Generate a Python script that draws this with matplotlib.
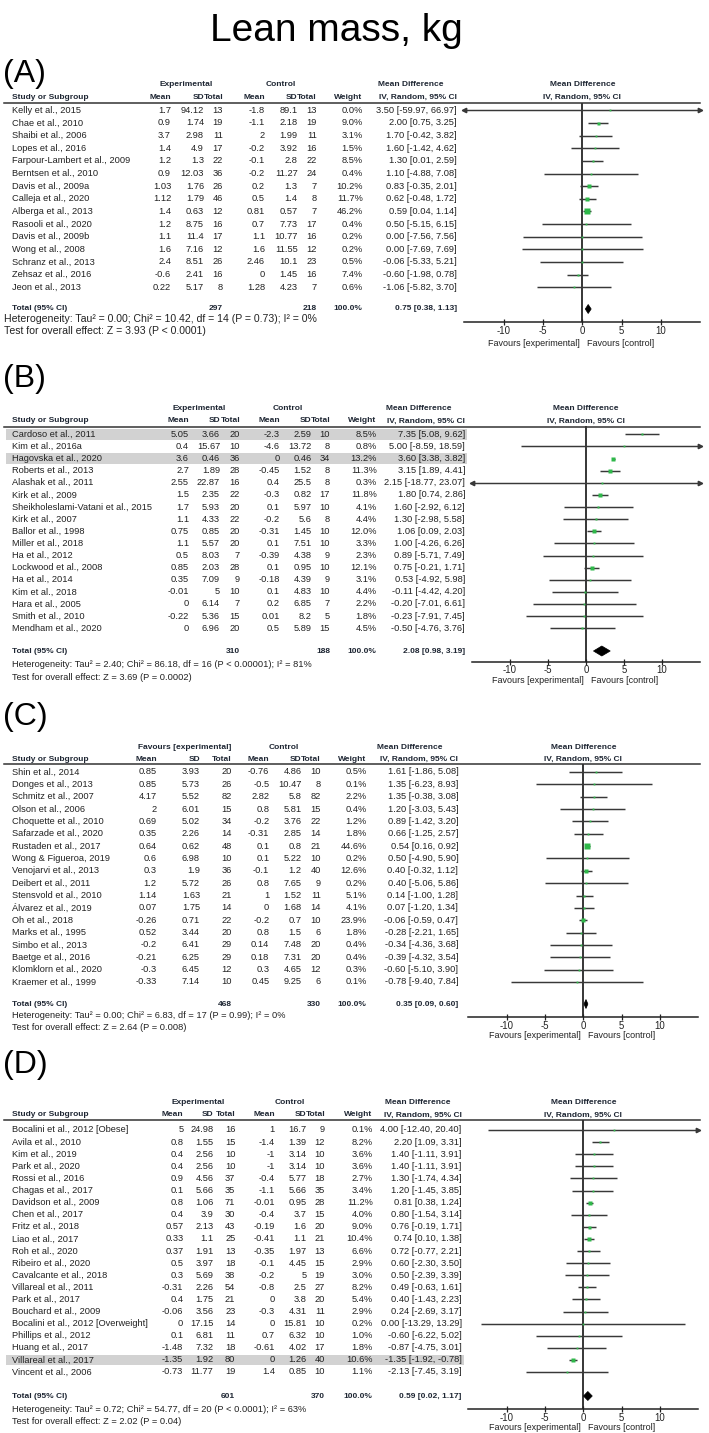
import matplotlib
matplotlib.use('Agg')
import matplotlib.pyplot as plt
from matplotlib.patches import Polygon, Rectangle
from matplotlib.lines import Line2D
import numpy as np

# ---------------- DATA ----------------
# Panel A
studies_A = ["Kelly et al., 2015", "Chae et al., 2010", "Shaibi et al., 2006", "Lopes et al., 2016",
             "Farpour-Lambert et al., 2009", "Berntsen et al., 2010", "Davis et al., 2009a", "Calleja et al., 2020",
             "Alberga et al., 2013", "Rasooli et al., 2020", "Davis et al., 2009b", "Wong et al., 2008",
             "Schranz et al., 2013", "Zehsaz et al., 2016", "Jeon et al., 2013"]
exp_mean_A = [1.7, 0.9, 3.7, 1.4, 1.2, 0.9, 1.03, 1.12, 1.4, 1.2, 1.1, 1.6, 2.4, -0.6, 0.22]
exp_sd_A = [94.12, 1.74, 2.98, 4.9, 1.3, 12.03, 1.76, 1.79, 0.63, 8.75, 11.4, 7.16, 8.51, 2.41, 5.17]
exp_n_A = [13, 19, 11, 17, 22, 36, 26, 46, 12, 16, 17, 12, 26, 16, 8]
ctl_mean_A = [-1.8, -1.1, 2, -0.2, -0.1, -0.2, 0.2, 0.5, 0.81, 0.7, 1.1, 1.6, 2.46, 0, 1.28]
ctl_sd_A = [89.1, 2.18, 1.99, 3.92, 2.8, 11.27, 1.3, 1.4, 0.57, 7.73, 10.77, 11.55, 10.1, 1.45, 4.23]
ctl_n_A = [13, 19, 11, 16, 22, 24, 7, 8, 7, 17, 16, 12, 23, 16, 7]
weight_A = [0.0, 9.0, 3.1, 1.5, 8.5, 0.4, 10.2, 11.7, 46.2, 0.4, 0.2, 0.2, 0.5, 7.4, 0.6]
md_A = [3.50, 2.00, 1.70, 1.60, 1.30, 1.10, 0.83, 0.62, 0.59, 0.50, 0.00, 0.00, -0.06, -0.60, -1.06]
lo_A = [-59.97, 0.75, -0.42, -1.42, 0.01, -4.88, -0.35, -0.48, 0.04, -5.15, -7.56, -7.69, -5.33, -1.98, -5.82]
hi_A = [66.97, 3.25, 3.82, 4.62, 2.59, 7.08, 2.01, 1.72, 1.14, 6.15, 7.56, 7.69, 5.21, 0.78, 3.70]
total_A = [297, 218, 0.75, 0.38, 1.13]
het_A = "Heterogeneity: Tau² = 0.00; Chi² = 10.42, df = 14 (P = 0.73); I² = 0%"
test_A = "Test for overall effect: Z = 3.93 (P < 0.0001)"

# Panel B
studies_B = ["Cardoso et al., 2011", "Kim et al., 2016a", "Hagovska et al., 2020", "Roberts et al., 2013",
             "Alashak et al., 2011", "Kirk et al., 2009", "Sheikholeslami-Vatani et al., 2015", "Kirk et al., 2007",
             "Ballor et al., 1998", "Miller et al., 2018", "Ha et al., 2012", "Lockwood et al., 2008",
             "Ha et al., 2014", "Kim et al., 2018", "Hara et al., 2005", "Smith et al., 2010", "Mendham et al., 2020"]
exp_mean_B = [5.05, 0.4, 3.6, 2.7, 2.55, 1.5, 1.7, 1.1, 0.75, 1.1, 0.5, 0.85, 0.35, -0.01, 0, -0.22, 0]
exp_sd_B = [3.66, 15.67, 0.46, 1.89, 22.87, 2.35, 5.93, 4.33, 0.85, 5.57, 8.03, 2.03, 7.09, 5, 6.14, 5.36, 6.96]
exp_n_B = [20, 10, 36, 28, 16, 22, 20, 22, 20, 20, 7, 28, 9, 10, 7, 15, 20]
ctl_mean_B = [-2.3, -4.6, 0, -0.45, 0.4, -0.3, 0.1, -0.2, -0.31, 0.1, -0.39, 0.1, -0.18, 0.1, 0.2, 0.01, 0.5]
ctl_sd_B = [2.59, 13.72, 0.46, 1.52, 25.5, 0.82, 5.97, 5.6, 1.45, 7.51, 4.38, 0.95, 4.39, 4.83, 6.85, 8.2, 5.89]
ctl_n_B = [10, 8, 34, 8, 8, 17, 10, 8, 10, 10, 9, 10, 9, 10, 7, 5, 15]
weight_B = [8.5, 0.8, 13.2, 11.3, 0.3, 11.8, 4.1, 4.4, 12.0, 3.3, 2.3, 12.1, 3.1, 4.4, 2.2, 1.8, 4.5]
md_B = [7.35, 5.00, 3.60, 3.15, 2.15, 1.80, 1.60, 1.30, 1.06, 1.00, 0.89, 0.75, 0.53, -0.11, -0.20, -0.23, -0.50]
lo_B = [5.08, -8.59, 3.38, 1.89, -18.77, 0.74, -2.92, -2.98, 0.09, -4.26, -5.71, -0.21, -4.92, -4.42, -7.01, -7.91, -4.76]
hi_B = [9.62, 18.59, 3.82, 4.41, 23.07, 2.86, 6.12, 5.58, 2.03, 6.26, 7.49, 1.71, 5.98, 4.20, 6.61, 7.45, 3.76]
total_B = [310, 188, 2.08, 0.98, 3.19]
het_B = "Heterogeneity: Tau² = 2.40; Chi² = 86.18, df = 16 (P < 0.00001); I² = 81%"
test_B = "Test for overall effect: Z = 3.69 (P = 0.0002)"
highlight_B = [0, 2]

# Panel C
studies_C = ["Shin et al., 2014", "Donges et al., 2013", "Schmitz et al., 2007", "Olson et al., 2006",
             "Choquette et al., 2010", "Safarzade et al., 2020", "Rustaden et al., 2017", "Wong & Figueroa, 2019",
             "Venojarvi et al., 2013", "Deibert et al., 2011", "Stensvold et al., 2010", "Álvarez et al., 2019",
             "Oh et al., 2018", "Marks et al., 1995", "Simbo et al., 2013", "Baetge et al., 2016",
             "Klomklorn et al., 2020", "Kraemer et al., 1999"]
exp_mean_C = [0.85, 0.85, 4.17, 2, 0.69, 0.35, 0.64, 0.6, 0.3, 1.2, 1.14, 0.07, -0.26, 0.52, -0.2, -0.21, -0.3, -0.33]
exp_sd_C = [3.93, 5.73, 5.52, 6.01, 5.02, 2.26, 0.62, 6.98, 1.9, 5.72, 1.63, 1.75, 0.71, 3.44, 6.41, 6.25, 6.45, 7.14]
exp_n_C = [20, 26, 82, 15, 34, 14, 48, 10, 36, 26, 21, 14, 22, 20, 29, 29, 12, 10]
ctl_mean_C = [-0.76, -0.5, 2.82, 0.8, -0.2, -0.31, 0.1, 0.1, -0.1, 0.8, 1, 0, -0.2, 0.8, 0.14, 0.18, 0.3, 0.45]
ctl_sd_C = [4.86, 10.47, 5.8, 5.81, 3.76, 2.85, 0.8, 5.22, 1.2, 7.65, 1.52, 1.68, 0.7, 1.5, 7.48, 7.31, 4.65, 9.25]
ctl_n_C = [10, 8, 82, 15, 22, 14, 21, 10, 40, 9, 11, 14, 10, 6, 20, 20, 12, 6]
weight_C = [0.5, 0.1, 2.2, 0.4, 1.2, 1.8, 44.6, 0.2, 12.6, 0.2, 5.1, 4.1, 23.9, 1.8, 0.4, 0.4, 0.3, 0.1]
md_C = [1.61, 1.35, 1.35, 1.20, 0.89, 0.66, 0.54, 0.50, 0.40, 0.40, 0.14, 0.07, -0.06, -0.28, -0.34, -0.39, -0.60, -0.78]
lo_C = [-1.86, -6.23, -0.38, -3.03, -1.42, -1.25, 0.16, -4.90, -0.32, -5.06, -1.00, -1.20, -0.59, -2.21, -4.36, -4.32, -5.10, -9.40]
hi_C = [5.08, 8.93, 3.08, 5.43, 3.20, 2.57, 0.92, 5.90, 1.12, 5.86, 1.28, 1.34, 0.47, 1.65, 3.68, 3.54, 3.90, 7.84]
total_C = [468, 330, 0.35, 0.09, 0.60]
het_C = "Heterogeneity: Tau² = 0.00; Chi² = 6.83, df = 17 (P = 0.99); I² = 0%"
test_C = "Test for overall effect: Z = 2.64 (P = 0.008)"

# Panel D
studies_D = ["Bocalini et al., 2012 [Obese]", "Avila et al., 2010", "Kim et al., 2019", "Park et al., 2020",
             "Rossi et al., 2016", "Chagas et al., 2017", "Davidson et al., 2009", "Chen et al., 2017",
             "Fritz et al., 2018", "Liao et al., 2017", "Roh et al., 2020", "Ribeiro et al., 2020",
             "Cavalcante et al., 2018", "Villareal et al., 2011", "Park et al., 2017", "Bouchard et al., 2009",
             "Bocalini et al., 2012 [Overweight]", "Phillips et al., 2012", "Huang et al., 2017",
             "Villareal et al., 2017", "Vincent et al., 2006"]
exp_mean_D = [5, 0.8, 0.4, 0.4, 0.9, 0.1, 0.8, 0.4, 0.57, 0.33, 0.37, 0.5, 0.3, -0.31, 0.4, -0.06, 0, 0.1, -1.48, -1.35, -0.73]
exp_sd_D = [24.98, 1.55, 2.56, 2.56, 4.56, 5.66, 1.06, 3.9, 2.13, 1.1, 1.91, 3.97, 5.69, 2.26, 1.75, 3.56, 17.15, 6.81, 7.32, 1.92, 11.77]
exp_n_D = [16, 15, 10, 10, 37, 35, 71, 30, 43, 25, 13, 18, 38, 54, 21, 23, 14, 11, 18, 80, 19]
ctl_mean_D = [1, -1.4, -1, -1, -0.4, -1.1, -0.01, -0.4, -0.19, -0.41, -0.35, -0.1, -0.2, -0.8, 0, -0.3, 0, 0.7, -0.61, 0, 1.4]
ctl_sd_D = [16.7, 1.39, 3.14, 3.14, 5.77, 5.66, 0.95, 3.7, 1.6, 1.1, 1.97, 4.45, 5, 2.5, 3.8, 4.31, 15.81, 6.32, 4.02, 1.26, 0.85]
ctl_n_D = [9, 12, 10, 10, 18, 35, 28, 15, 20, 21, 13, 15, 19, 27, 20, 11, 10, 10, 17, 40, 10]
weight_D = [0.1, 8.2, 3.6, 3.6, 2.7, 3.4, 11.2, 4.0, 9.0, 10.4, 6.6, 2.9, 3.0, 8.2, 5.4, 2.9, 0.2, 1.0, 1.8, 10.6, 1.1]
md_D = [4.00, 2.20, 1.40, 1.40, 1.30, 1.20, 0.81, 0.80, 0.76, 0.74, 0.72, 0.60, 0.50, 0.49, 0.40, 0.24, 0.00, -0.60, -0.87, -1.35, -2.13]
lo_D = [-12.40, 1.09, -1.11, -1.11, -1.74, -1.45, 0.38, -1.54, -0.19, 0.10, -0.77, -2.30, -2.39, -0.63, -1.43, -2.69, -13.29, -6.22, -4.75, -1.92, -7.45]
hi_D = [20.40, 3.31, 3.91, 3.91, 4.34, 3.85, 1.24, 3.14, 1.71, 1.38, 2.21, 3.50, 3.39, 1.61, 2.23, 3.17, 13.29, 5.02, 3.01, -0.78, 3.19]
total_D = [601, 370, 0.59, 0.02, 1.17]
het_D = "Heterogeneity: Tau² = 0.72; Chi² = 54.77, df = 20 (P < 0.0001); I² = 63%"
test_D = "Test for overall effect: Z = 2.02 (P = 0.04)"
highlight_D = [19]

xticks = [-10, -5, 0, 5, 10]
xtick_labels = ["-10", "-5", "0", "5", "10"]

# ---------------- STYLE / LAYOUT ----------------
W, H = 709, 1433
FONT = ['Liberation Sans', 'DejaVu Sans']
plt.rcParams['font.family'] = FONT
TXT = '#222222'
HDR = '#1e2633'
GREEN = '#2fb84a'
LINEC = '#383838'
FS = 6.7      # body text
HFS = 6.0     # bold header text

fig = plt.figure(figsize=(W / 100, H / 100), dpi=100)


def T(x, y, s, ha='left', va='center', size=FS, weight='normal', color=TXT):
    fig.text(x / W, 1 - y / H, s, ha=ha, va=va, fontsize=size, fontweight=weight,
             color=color, family=FONT)


def fmt(v):
    return f"{v:g}"


def panel(label, letter_y, data, lay, grp_label="Experimental"):
    (studies, em, es, en, cm, cs, cn, wt, md, lo, hi, tot, het, test, hl) = data
    L = lay
    T(3, letter_y, label, size=23, color='black')
    # highlighted rows
    for i in hl:
        y = L['row0'] + i * L['dy']
        fig.add_artist(Rectangle((6 / W, 1 - (y + 5.2) / H), (L['ci'] + 2 - 6) / W, 10.4 / H,
                                 transform=fig.transFigure, facecolor='#d2d2d2', edgecolor='none', zorder=0))
    # headers
    T(L['c_exp'], L['h1'], grp_label, ha='center', size=HFS, weight='bold', color=HDR)
    T(L['c_ctl'], L['h1'], "Control", ha='center', size=HFS, weight='bold', color=HDR)
    T(L['c_md'], L['h1'], "Mean Difference", ha='center', size=HFS, weight='bold', color=HDR)
    T(11.7, L['h2'], "Study or Subgroup", size=HFS, weight='bold', color=HDR)
    for key, s in [('em', 'Mean'), ('es', 'SD'), ('en', 'Total'), ('cm', 'Mean'), ('cs', 'SD'),
                   ('cn', 'Total'), ('wt', 'Weight'), ('ci', 'IV, Random, 95% CI')]:
        T(L[key], L['h2'], s, ha='right', size=HFS, weight='bold', color=HDR)
    zero_px = L['ax0'] + (L['ax1'] - L['ax0']) / 2
    T(zero_px, L['h1'], "Mean Difference", ha='center', size=HFS, weight='bold', color=HDR)
    T(zero_px, L['h2'], "IV, Random, 95% CI", ha='center', size=HFS, weight='bold', color=HDR)
    fig.add_artist(Line2D([4 / W, 700 / W], [1 - L['hl'] / H] * 2, transform=fig.transFigure,
                          color='#333333', lw=1.1))
    # study rows
    for i, s in enumerate(studies):
        y = L['row0'] + i * L['dy']
        T(11.7, y, s)
        T(L['em'], y, fmt(em[i]), ha='right')
        T(L['es'], y, fmt(es[i]), ha='right')
        T(L['en'], y, str(en[i]), ha='right')
        T(L['cm'], y, fmt(cm[i]), ha='right')
        T(L['cs'], y, fmt(cs[i]), ha='right')
        T(L['cn'], y, str(cn[i]), ha='right')
        T(L['wt'], y, f"{wt[i]:.1f}%", ha='right')
        T(L['ci'], y, f"{md[i]:.2f} [{lo[i]:.2f}, {hi[i]:.2f}]", ha='right')
    # totals
    ty = L['tot']
    T(11.7, ty, "Total (95% CI)", size=HFS, weight='bold', color=HDR)
    T(L['en'], ty, str(tot[0]), ha='right', size=HFS, weight='bold', color=HDR)
    T(L['cn'], ty, str(tot[1]), ha='right', size=HFS, weight='bold', color=HDR)
    T(L['wt'], ty, "100.0%", ha='right', size=HFS, weight='bold', color=HDR)
    T(L['ci'], ty, f"{tot[2]:.2f} [{tot[3]:.2f}, {tot[4]:.2f}]", ha='right', size=HFS, weight='bold', color=HDR)
    T(L['hetx'], L['het'], het, size=L['hsize'])
    T(L['hetx'], L['test'], test, size=L['hsize'])

    # forest axes: x in data units, y in pixel units
    ax = fig.add_axes([L['ax0'] / W, 1 - L['axy'] / H, (L['ax1'] - L['ax0']) / W, (L['axy'] - L['hl']) / H])
    ax.set_facecolor('none')
    ax.set_xlim(-15, 15)
    ax.set_ylim(L['axy'], L['hl'])
    for sp in ['top', 'left', 'right']:
        ax.spines[sp].set_visible(False)
    ax.spines['bottom'].set_linewidth(1.1)
    ax.spines['bottom'].set_color('#222222')
    ax.set_yticks([])
    ax.set_xticks(xticks)
    ax.set_xticklabels(xtick_labels)
    ax.tick_params(axis='x', direction='inout', length=4, width=0.9, pad=L['tpad'], labelsize=6.9,
                   colors='#222222')
    ax.axvline(0, color='black', lw=1.1, zorder=1)
    xmin, xmax = ax.get_xlim()
    for i in range(len(studies)):
        y = L['row0'] + i * L['dy']
        a, b = max(lo[i], xmin), min(hi[i], xmax)
        ax.plot([a, b], [y, y], color=LINEC, lw=1.05, zorder=2, solid_capstyle='butt')
        if lo[i] < xmin:
            ax.plot([xmin], [y], marker='<', ms=3.2, color=LINEC, clip_on=False, zorder=3)
        if hi[i] > xmax:
            ax.plot([xmax], [y], marker='>', ms=3.2, color=LINEC, clip_on=False, zorder=3)
        side = max(1.8, np.sqrt(wt[i]) * 1.0)
        ax.plot([md[i]], [y], marker='s', ms=side * 0.72, color=GREEN, mec='none', zorder=4)
    dh = L['dh']
    ax.add_patch(Polygon([(tot[3], ty), (tot[2], ty - dh / 2), (tot[4], ty), (tot[2], ty + dh / 2)],
                         closed=True, facecolor='black', edgecolor='black', lw=0.5, zorder=5))
    T(zero_px - 0.3 * (L['ax1'] - L['ax0']) / 30, L['fav'], "Favours [experimental]", ha='right', size=6.5)
    T(zero_px + 0.6 * (L['ax1'] - L['ax0']) / 30, L['fav'], "Favours [control]", ha='left', size=6.5)


# Title
T(336, 41, "Lean mass, kg", ha='center', va='baseline', size=28, color='black')

lay_A = dict(h1=85, h2=97.7, hl=103.3, row0=110.3, dy=12.64, tot=309, het=319.5, test=331,
             em=171, es=204, en=223, cm=265, cs=297.7, cn=316.7, wt=362.7, ci=456.7,
             c_exp=186, c_ctl=280.7, c_md=411, ax0=464.3, ax1=700.3, axy=321.7, fav=343, dh=9,
             hetx=4, hsize=7.6, tpad=1.0)
lay_B = dict(h1=408.3, h2=421, hl=426.5, row0=434.3, dy=12.12, tot=651, het=664.3, test=677.7,
             em=189, es=220, en=240, cm=280, cs=311.7, cn=330, wt=376.7, ci=465,
             c_exp=199, c_ctl=287.5, c_md=419, ax0=472, ax1=700, axy=662.3, fav=680, dh=10,
             hetx=11.7, hsize=FS, tpad=0.0)
lay_C = dict(h1=747.3, h2=759.3, hl=764, row0=772, dy=12.35, tot=1004, het=1015.5, test=1027,
             em=156.7, es=200, en=231.7, cm=269.3, cs=301.7, cn=320.7, wt=366.7, ci=458.3,
             c_exp=185, c_ctl=283.5, c_md=410, ax0=468.3, ax1=698.3, axy=1016.7, fav=1035, dh=9,
             hetx=11.7, hsize=FS, tpad=1.0)
lay_D = dict(h1=1102.7, h2=1115, hl=1120, row0=1130, dy=12.1, tot=1396, het=1409, test=1421,
             em=183.3, es=213.3, en=235.3, cm=275, cs=306.7, cn=325, wt=372.7, ci=461.7,
             c_exp=198.5, c_ctl=290, c_md=418, ax0=468.3, ax1=698.3, axy=1408.5, fav=1427, dh=9,
             hetx=11.7, hsize=FS, tpad=1.0)

panel("(A)", 74, (studies_A, exp_mean_A, exp_sd_A, exp_n_A, ctl_mean_A, ctl_sd_A, ctl_n_A, weight_A,
                  md_A, lo_A, hi_A, total_A, het_A, test_A, []), lay_A)
panel("(B)", 379, (studies_B, exp_mean_B, exp_sd_B, exp_n_B, ctl_mean_B, ctl_sd_B, ctl_n_B, weight_B,
                   md_B, lo_B, hi_B, total_B, het_B, test_B, highlight_B), lay_B)
panel("(C)", 717, (studies_C, exp_mean_C, exp_sd_C, exp_n_C, ctl_mean_C, ctl_sd_C, ctl_n_C, weight_C,
                   md_C, lo_C, hi_C, total_C, het_C, test_C, []), lay_C, grp_label="Favours [experimental]")
panel("(D)", 1065, (studies_D, exp_mean_D, exp_sd_D, exp_n_D, ctl_mean_D, ctl_sd_D, ctl_n_D, weight_D,
                    md_D, lo_D, hi_D, total_D, het_D, test_D, highlight_D), lay_D)

fig.savefig("out.png", dpi=100)
